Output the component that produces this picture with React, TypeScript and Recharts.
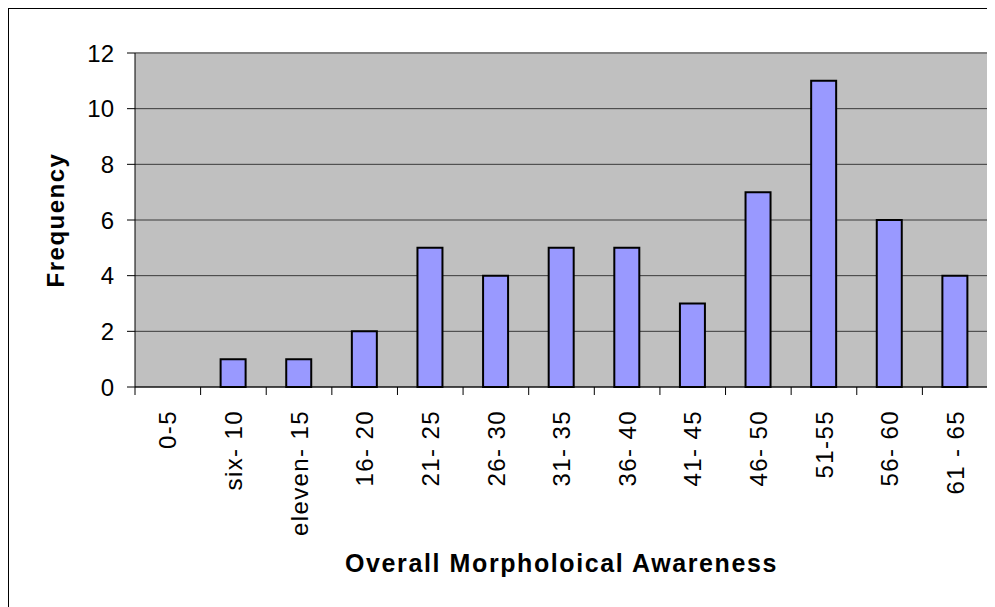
import React from 'react';
import { BarChart, Bar, XAxis, YAxis, CartesianGrid, ReferenceLine } from 'recharts';

const categories = ['0-5', 'six- 10', 'eleven- 15', '16- 20', '21- 25', '26- 30', '31- 35', '36- 40', '41- 45', '46- 50', '51-55', '56- 60', '61 - 65'];
const frequencies = [0, 1, 1, 2, 5, 4, 5, 5, 3, 7, 11, 6, 4];
const yTicks = [0, 2, 4, 6, 8, 10, 12];

const data = categories.map((c, i) => ({ range: c, freq: frequencies[i] }));

const FONT = 'Arial, "Liberation Sans", sans-serif';
const PLOT_LEFT = 126;
const PLOT_RIGHT = 979;
const BAND = (PLOT_RIGHT - PLOT_LEFT) / categories.length;

const XTick = (props: any) => {
  const { x, y, payload, index } = props;
  const last = index === categories.length - 1;
  return (
    <g>
      <line x1={x - BAND / 2} x2={x - BAND / 2} y1={y} y2={y + 8} stroke="#000" strokeWidth={1} />
      {last && <line x1={x + BAND / 2} x2={x + BAND / 2} y1={y} y2={y + 8} stroke="#000" strokeWidth={1} />}
      <text
        x={0}
        y={0}
        transform={`translate(${x},${y + 23}) rotate(-90)`}
        textAnchor="end"
        dy="0.36em"
        fontSize={24}
        letterSpacing={1.4}
        fontFamily={FONT}
        fill="#000"
      >
        {payload.value}
      </text>
    </g>
  );
};

export default function App() {
  return (
    <div style={{ width: 994, height: 606, borderTop: '1px solid #000', borderLeft: '1px solid #000', background: '#fff' }}>
      <BarChart
        width={986}
        height={598}
        data={data}
        margin={{ top: 44, right: 7, bottom: 0, left: 0 }}
        barCategoryGap={0}
      >
        <CartesianGrid vertical={false} fill="#C0C0C0" stroke="#3a3a3a" strokeWidth={1} fillOpacity={1} />
        <XAxis
          dataKey="range"
          height={220}
          tickLine={false}
          tickSize={0}
          tickMargin={0}
          interval={0}
          axisLine={{ stroke: '#000', strokeWidth: 1 }}
          tick={<XTick />}
          label={{
            content: (p: any) => {
              const vb = p.viewBox || {};
              return (
                <text
                  x={vb.x + vb.width / 2}
                  y={vb.y + 176}
                  textAnchor="middle"
                  dominantBaseline="central"
                  fontSize={25}
                  fontWeight="bold"
                  letterSpacing={1.6}
                  fontFamily={FONT}
                  fill="#000"
                >
                  Overall Morpholoical Awareness
                </text>
              );
            },
          }}
        />
        <YAxis
          width={126}
          domain={[0, 12]}
          ticks={yTicks}
          interval={0}
          tickSize={8}
          tickMargin={13}
          axisLine={{ stroke: '#000', strokeWidth: 1 }}
          tickLine={{ stroke: '#000' }}
          tick={{ fontSize: 24, fill: '#000', fontFamily: FONT }}
          label={{
            content: (p: any) => {
              const vb = p.viewBox || {};
              const cy = vb.y + vb.height / 2;
              return (
                <text
                  x={0}
                  y={0}
                  transform={`translate(46,${cy}) rotate(-90)`}
                  textAnchor="middle"
                  dominantBaseline="central"
                  fontSize={24}
                  fontWeight="bold"
                  letterSpacing={1.5}
                  fontFamily={FONT}
                  fill="#000"
                >
                  Frequency
                </text>
              );
            },
          }}
        />
        <YAxis
          yAxisId="right"
          orientation="right"
          width={0}
          domain={[0, 12]}
          tick={false}
          tickLine={false}
          axisLine={{ stroke: '#808080', strokeWidth: 2 }}
        />
        <ReferenceLine y={12} stroke="#808080" strokeWidth={2} />
        <Bar dataKey="freq" fill="#9999FF" stroke="#000" strokeWidth={2} barSize={25} isAnimationActive={false} />
      </BarChart>
    </div>
  );
}
